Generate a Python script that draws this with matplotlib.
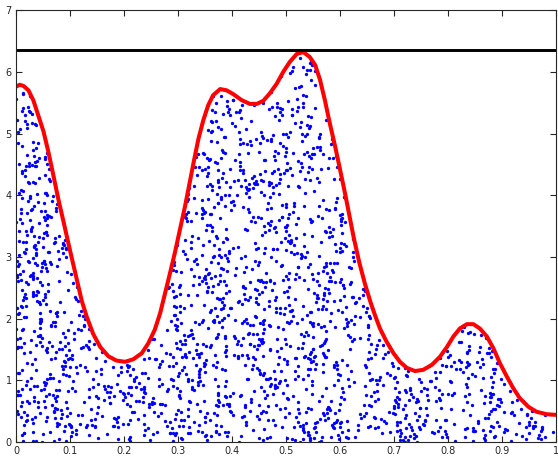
import numpy as np
import matplotlib
matplotlib.use("Agg")
import matplotlib.pyplot as plt

# target density
curve_x = [0.000, 0.007, 0.014, 0.023, 0.032, 0.041, 0.051, 0.060, 0.069, 0.078,
           0.088, 0.097, 0.106, 0.114, 0.122, 0.131, 0.143, 0.156, 0.171, 0.186,
           0.202, 0.217, 0.233, 0.245, 0.257, 0.267, 0.276, 0.285, 0.294, 0.303,
           0.313, 0.322, 0.330, 0.338, 0.347, 0.356, 0.365, 0.378, 0.390, 0.402,
           0.418, 0.433, 0.446, 0.458, 0.470, 0.483, 0.495, 0.507, 0.520, 0.532,
           0.544, 0.554, 0.563, 0.572, 0.581, 0.591, 0.600, 0.610, 0.625, 0.636,
           0.646, 0.656, 0.665, 0.674, 0.686, 0.699, 0.711, 0.724, 0.739, 0.754,
           0.770, 0.785, 0.798, 0.810, 0.822, 0.835, 0.847, 0.859, 0.872, 0.884,
           0.896, 0.909, 0.921, 0.933, 0.949, 0.964, 0.983, 1.000]
curve_y = [5.76, 5.79, 5.77, 5.70, 5.54, 5.30, 5.03, 4.70, 4.33, 3.95,
           3.57, 3.22, 2.88, 2.58, 2.28, 2.03, 1.75, 1.54, 1.39, 1.32,
           1.30, 1.34, 1.44, 1.60, 1.82, 2.09, 2.41, 2.73, 3.06, 3.42,
           3.82, 4.22, 4.58, 4.92, 5.22, 5.46, 5.62, 5.72, 5.70, 5.64,
           5.54, 5.48, 5.48, 5.53, 5.65, 5.81, 6.00, 6.16, 6.29, 6.32,
           6.24, 6.11, 5.87, 5.54, 5.17, 4.79, 4.42, 4.00, 3.33, 2.90,
           2.57, 2.28, 2.05, 1.84, 1.63, 1.44, 1.30, 1.20, 1.15, 1.17,
           1.25, 1.38, 1.54, 1.71, 1.84, 1.91, 1.91, 1.84, 1.71, 1.52,
           1.28, 1.06, 0.87, 0.71, 0.57, 0.49, 0.45, 0.44]

# envelope (black line) = max of the curve
envelope = 6.36
n_accepted = 2000

# accepted samples of the rejection sampler: the individual dots can't be
# read from the picture, so they are drawn the same way the original was
rng = np.random.default_rng(3)
xs, ys = [], []
while len(xs) < n_accepted:
    px = rng.uniform(0, 1)
    py = rng.uniform(0, envelope)
    if py <= np.interp(px, curve_x, curve_y):
        xs.append(px)
        ys.append(py)

fig = plt.figure(figsize=(5.58, 4.59), dpi=100)
ax = fig.add_axes([0.0287, 0.037, 0.9677, 0.941])

ax.plot(xs, ys, 'o', color='#0000ff', ms=2.4, mec='none')
ax.plot(curve_x, curve_y, color='#ff0000', lw=2.9,
        solid_joinstyle='round', solid_capstyle='butt')
ax.axhline(envelope, color='black', lw=2.1)

ax.set_xlim(0, 1)
ax.set_ylim(0, 7)
ax.set_xticks(np.arange(0, 1.01, 0.1))
ax.set_xticklabels(['0', '0.1', '0.2', '0.3', '0.4', '0.5', '0.6', '0.7', '0.8', '0.9', '1'])
ax.set_yticks(range(8))
ax.tick_params(direction='in', length=4, width=0.8, top=True, right=True,
               labelsize=7, colors='#262626', pad=3)
for sp in ax.spines.values():
    sp.set_color('#262626')
    sp.set_linewidth(0.8)

fig.savefig('out.png', dpi=100)
